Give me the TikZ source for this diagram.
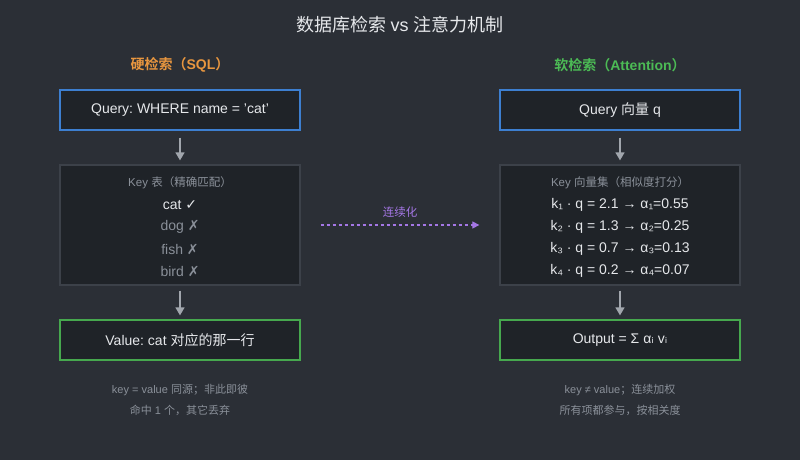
\documentclass[tikz,border=0pt]{standalone}
\usepackage{fontspec}
\setmainfont{Liberation Sans}
\newfontfamily\cjk{Noto Sans CJK SC}[BoldFont={Noto Sans CJK SC Bold}]
\newfontfamily\symfont{DejaVu Sans}
\usetikzlibrary{arrows.meta}
\definecolor{bgc}{HTML}{2B2F36}
\definecolor{boxfill}{HTML}{1F2328}
\definecolor{boxedge}{HTML}{3C4149}
\definecolor{blueedge}{HTML}{3D7FD0}
\definecolor{greenedge}{HTML}{46A84E}
\definecolor{txt}{HTML}{E6E8EB}
\definecolor{dim}{HTML}{8A9099}
\definecolor{orangehd}{HTML}{E8963F}
\definecolor{greenhd}{HTML}{4CBB55}
\definecolor{purp}{HTML}{A577E6}
\tikzset{
  io/.style={draw, line width=1.3pt, fill=boxfill, minimum width=240pt, minimum height=40pt, text=txt, font=\fontsize{14}{16}\selectfont},
  keybox/.style={draw=boxedge, line width=1.3pt, fill=boxfill, minimum width=240pt, minimum height=120pt},
  item/.style={font=\fontsize{14}{16}\selectfont},
  note/.style={text=dim, font=\fontsize{11}{13}\selectfont},
  flow/.style={-{Triangle[length=8pt,width=9pt]}, draw=dim!80!white, line width=1.5pt}
}
\frenchspacing
\begin{document}
\frenchspacing
\begin{tikzpicture}[x=1pt,y=-1pt]
\fill[bgc] (0,0) rectangle (800,460);
\useasboundingbox (0,0) rectangle (800,460);

\node[text=txt, font=\fontsize{18}{20}\selectfont] (title) at (400,25) {\cjk 数据库检索 \rmfamily vs \cjk 注意力机制};
\node[text=orangehd, font=\fontsize{14}{16}\selectfont\bfseries] (hardhd) at (180,65) {{\cjk 硬检索（}SQL{\cjk ）}};
\node[text=greenhd, font=\fontsize{14}{16}\selectfont\bfseries] (softhd) at (620,65) {{\cjk 软检索（}Attention{\cjk ）}};

% left column
\node[io, draw=blueedge] (hq) at (180,110) {Query: WHERE name = 'cat'};
\node[keybox] (hk) at (180,225) {};
\node[note, font=\fontsize{11.5}{13}\selectfont] (hkt) at (180,183) {Key {\cjk 表（精确匹配）}};
\node[item, text=txt] (k1) at (180,205) {cat {\symfont ✓}};
\node[item, text=dim] (k2) at (180,227) {dog {\symfont ✗}};
\node[item, text=dim] (k3) at (180,249) {fish {\symfont ✗}};
\node[item, text=dim] (k4) at (180,271) {bird {\symfont ✗}};
\node[io, draw=greenedge] (hv) at (180,340) {Value: cat {\cjk 对应的那一行}};
\draw[flow] ([yshift=-7pt]hq.south) -- ([yshift=4pt]hk.north);
\draw[flow] ([yshift=-5pt]hk.south) -- ([yshift=4pt]hv.north);
\node[note] (hn1) at (180,390) {key = value {\cjk 同源；非此即彼}};
\node[note] (hn2) at (180,410) {{\cjk 命中} 1 {\cjk 个，其它丢弃}};

% right column
\node[io, draw=blueedge] (sq) at (620,110) {Query {\cjk 向量} q};
\node[keybox] (sk) at (620,225) {};
\node[note, font=\fontsize{11.5}{13}\selectfont] (skt) at (620,183) {Key {\cjk 向量集（相似度打分）}};
\node[item, text=txt] (s1) at (620,205) {k₁ · q = 2.1 → α₁=0.55};
\node[item, text=txt] (s2) at (620,227) {k₂ · q = 1.3 → α₂=0.25};
\node[item, text=txt] (s3) at (620,249) {k₃ · q = 0.7 → α₃=0.13};
\node[item, text=txt] (s4) at (620,271) {k₄ · q = 0.2 → α₄=0.07};
\node[io, draw=greenedge] (sv) at (620,340) {Output = Σ α{\symfont ᵢ} v{\symfont ᵢ}};
\draw[flow] ([yshift=-7pt]sq.south) -- ([yshift=4pt]sk.north);
\draw[flow] ([yshift=-5pt]sk.south) -- ([yshift=4pt]sv.north);
\node[note] (sn1) at (620,390) {key ≠ value{\cjk ；连续加权}};
\node[note] (sn2) at (620,410) {\cjk 所有项都参与，按相关度};

% bridge
\draw[purp, dashed, line width=1.2pt, -{Triangle[length=7pt,width=7pt]}] ([xshift=20pt]hk.east) -- ([xshift=-20pt]sk.west) node[midway, above=4pt, font=\fontsize{11.5}{13}\selectfont\cjk] (bridge) {连续化};
\end{tikzpicture}
\end{document}
